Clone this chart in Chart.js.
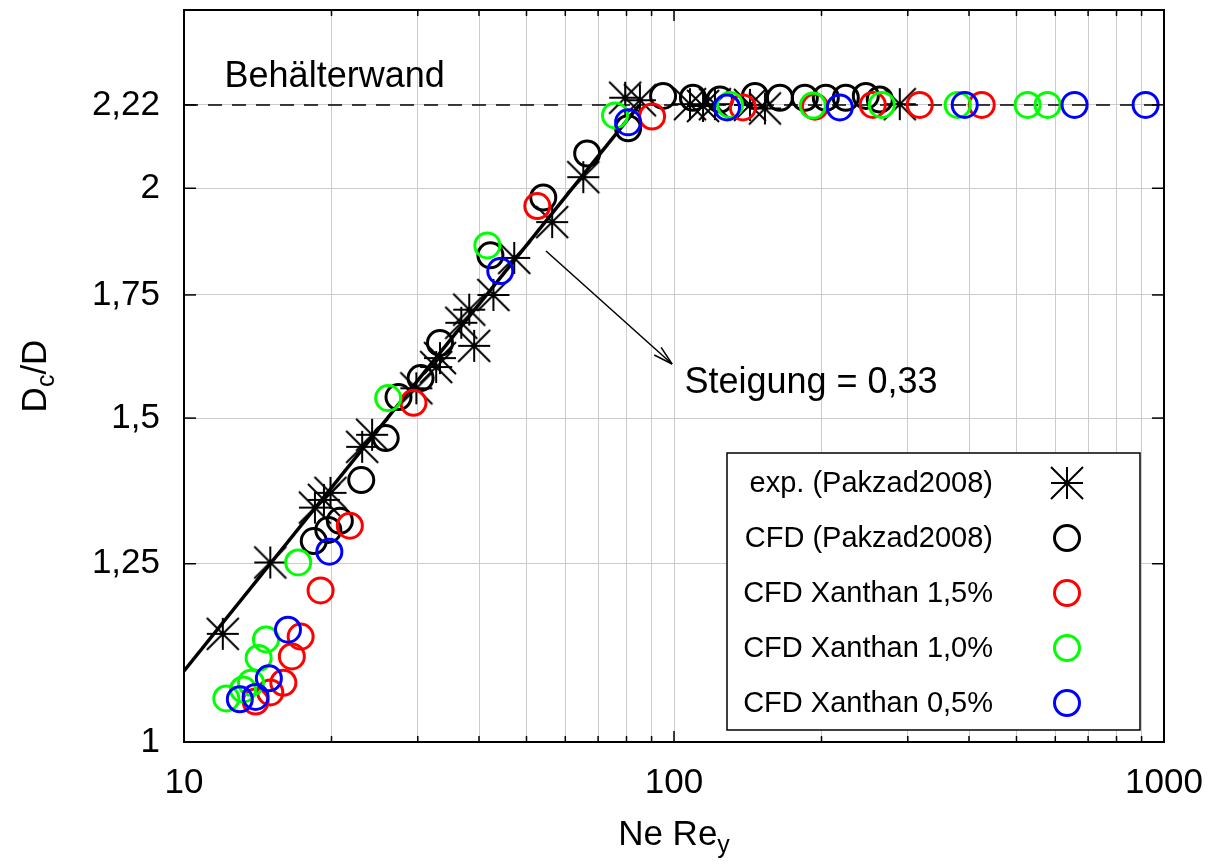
<!DOCTYPE html>
<html>
<head>
<meta charset="utf-8">
<script src="https://cdn.jsdelivr.net/npm/chart.js@4.4.1/dist/chart.umd.min.js"></script>
<style>
  html, body { margin: 0; padding: 0; background: #fff; }
  canvas { display: block; }
</style>
</head>
<body>
<canvas id="chart" width="1222" height="864"></canvas>
<script>
// values: x = Ne*Re_y, y = Dc/D
const expX = [12.0, 15.0, 18.5, 19.3, 19.9, 23.1, 24.2, 29.8, 32.7, 33.3, 36.8, 38.2, 39.1, 42.8, 47.2, 56.4, 65.3, 79.5, 85.2, 107.8, 114.6, 121.2, 142.9, 153.3, 288.9];
const expY = [1.145, 1.252, 1.341, 1.354, 1.366, 1.447, 1.469, 1.557, 1.599, 1.617, 1.690, 1.718, 1.642, 1.750, 1.833, 1.917, 2.028, 2.24, 2.233, 2.222, 2.217, 2.222, 2.22, 2.21, 2.222];

const cfdX = [18.4, 19.7, 20.8, 23.0, 25.8, 27.4, 30.4, 33.3, 42.2, 54.1, 66.5, 80.6, 95.0, 109.3, 124.1, 146.3, 164.5, 184.9, 204.1, 224.2, 246.3, 263];
const cfdY = [1.286, 1.304, 1.319, 1.388, 1.463, 1.540, 1.577, 1.648, 1.839, 1.977, 2.089, 2.156, 2.245, 2.24, 2.235, 2.245, 2.24, 2.24, 2.24, 2.24, 2.245, 2.235];

const xan15X = [14.0, 15.0, 15.95, 16.6, 17.3, 19.0, 21.8, 29.4, 52.6, 90.2, 138.2, 193.9, 254.5, 317.3, 424.6];
const xan15Y = [1.052, 1.064, 1.077, 1.113, 1.141, 1.209, 1.311, 1.529, 1.956, 2.188, 2.213, 2.215, 2.22, 2.22, 2.22];

const xan10X = [12.2, 13.2, 13.7, 14.2, 14.7, 17.1, 26.1, 41.6, 75.8, 130.1, 192.0, 265.5, 379.3, 526.8, 578.7];
const xan10Y = [1.056, 1.068, 1.077, 1.111, 1.137, 1.252, 1.538, 1.862, 2.191, 2.22, 2.218, 2.22, 2.22, 2.22, 2.22];

const xan05X = [13.0, 14.0, 14.9, 16.3, 19.8, 44.2, 80.6, 128.3, 218.0, 392.0, 656.9, 917.1];
const xan05Y = [1.055, 1.058, 1.083, 1.151, 1.269, 1.803, 2.172, 2.213, 2.213, 2.22, 2.22, 2.22];

// fitted line (slope 0.33) and vessel wall
const fitX = [10, 85];
const fitY = [1.093, 2.22];
const wallX = [10, 1000];
const wallY = [2.22, 2.22];

// axes
const xGridValues = [10, 20, 30, 40, 50, 60, 70, 80, 90, 100, 200, 300, 400, 500, 600, 700, 800, 900, 1000];
const xLabelValues = [10, 100, 1000];
const yTicks = [1, 1.25, 1.5, 1.75, 2, 2.22];
const yTickLabels = ['1', '1,25', '1,5', '1,75', '2', '2,22'];

const legendLabels = ['exp. (Pakzad2008)', 'CFD (Pakzad2008)', 'CFD Xanthan 1,5%', 'CFD Xanthan 1,0%', 'CFD Xanthan 0,5%'];

const FONT = '"Liberation Sans", Arial, Helvetica, sans-serif';

function pts(xs, ys) {
    return xs.map((x, i) => ({ x: x, y: ys[i] }));
}

// gnuplot-style "*" marker: plus plus a cross reaching the corners
function starImage(r, lw) {
    const s = Math.ceil(2 * r + lw + 2);
    const c = document.createElement('canvas');
    c.width = s; c.height = s;
    const g = c.getContext('2d');
    const m = s / 2;
    g.strokeStyle = '#000';
    g.lineWidth = lw;
    g.beginPath();
    g.moveTo(m - r, m); g.lineTo(m + r, m);
    g.moveTo(m, m - r); g.lineTo(m, m + r);
    g.moveTo(m - r, m - r); g.lineTo(m + r, m + r);
    g.moveTo(m - r, m + r); g.lineTo(m + r, m - r);
    g.stroke();
    return c;
}
const star = starImage(16, 2);

function circleSet(label, xs, ys, color, order) {
    return {
        label: label,
        data: pts(xs, ys),
        pointStyle: 'circle',
        pointRadius: 12.5,
        pointHoverRadius: 12.5,
        borderColor: color,
        backgroundColor: 'rgba(0,0,0,0)',
        borderWidth: 3,
        pointBorderWidth: 3,
        showLine: false,
        order: order
    };
}

function line(ctx, x1, y1, x2, y2) {
    ctx.beginPath();
    ctx.moveTo(x1, y1);
    ctx.lineTo(x2, y2);
    ctx.stroke();
}

// frame, inward ticks, annotations, legend and axis titles
const decor = {
    id: 'decor',
    afterDraw(chart) {
        const ctx = chart.ctx;
        const a = chart.chartArea;
        const xs = chart.scales.x, ys = chart.scales.y;
        ctx.save();

        ctx.strokeStyle = '#000';
        ctx.lineWidth = 1.5;
        xGridValues.forEach(v => {
            const px = xs.getPixelForValue(v);
            const len = xLabelValues.includes(v) ? 11 : 6;
            line(ctx, px, a.bottom, px, a.bottom - len);
            line(ctx, px, a.top, px, a.top + len);
        });
        yTicks.forEach(v => {
            const py = ys.getPixelForValue(v);
            line(ctx, a.left, py, a.left + 12, py);
            line(ctx, a.right, py, a.right - 12, py);
        });

        ctx.lineWidth = 2;
        ctx.strokeRect(a.left, a.top, a.right - a.left, a.bottom - a.top);

        // labels inside the plot
        ctx.fillStyle = '#000';
        ctx.textBaseline = 'middle';
        ctx.textAlign = 'left';
        ctx.font = '36px ' + FONT;
        ctx.fillText('Behälterwand', xs.getPixelForValue(12.1), ys.getPixelForValue(2.30));
        ctx.fillText('Steigung = 0,33', xs.getPixelForValue(105), ys.getPixelForValue(1.567));

        // arrow
        const ax1 = xs.getPixelForValue(54.8), ay1 = ys.getPixelForValue(1.849);
        const ax2 = xs.getPixelForValue(99.1), ay2 = ys.getPixelForValue(1.605);
        ctx.lineWidth = 1.5;
        line(ctx, ax1, ay1, ax2, ay2);
        const ang = Math.atan2(ay2 - ay1, ax2 - ax1);
        const hl = 20, hw = 0.26;
        line(ctx, ax2, ay2, ax2 - hl * Math.cos(ang - hw), ay2 - hl * Math.sin(ang - hw));
        line(ctx, ax2, ay2, ax2 - hl * Math.cos(ang + hw), ay2 - hl * Math.sin(ang + hw));

        // legend
        const lx = 727, ly = 453, lw = 413, lh = 277;
        ctx.fillStyle = '#fff';
        ctx.fillRect(lx, ly, lw, lh);
        ctx.strokeStyle = '#000';
        ctx.lineWidth = 1.5;
        ctx.strokeRect(lx, ly, lw, lh);
        const rows = [483, 538, 593, 648, 703];
        const colors = ['#000', '#000', '#ff0000', '#00ff00', '#0000ff'];
        ctx.font = '29px ' + FONT;
        ctx.textAlign = 'right';
        legendLabels.forEach((t, i) => {
            ctx.fillStyle = '#000';
            ctx.fillText(t, 993, rows[i] + 1);
            if (i === 0) {
                ctx.drawImage(star, 1067 - star.width / 2, rows[i] - star.height / 2);
            } else {
                ctx.strokeStyle = colors[i];
                ctx.lineWidth = 3;
                ctx.beginPath();
                ctx.arc(1067, rows[i], 12.5, 0, Math.PI * 2);
                ctx.stroke();
            }
        });

        // x title: Ne Re_y
        ctx.fillStyle = '#000';
        ctx.textAlign = 'left';
        ctx.textBaseline = 'alphabetic';
        const cx = (a.left + a.right) / 2;
        ctx.font = '35px ' + FONT;
        const w1 = ctx.measureText('Ne Re').width;
        ctx.font = '25px ' + FONT;
        const w2 = ctx.measureText('y').width;
        let x0 = cx - (w1 + w2) / 2;
        ctx.font = '35px ' + FONT;
        ctx.fillText('Ne Re', x0, 845);
        ctx.font = '25px ' + FONT;
        ctx.fillText('y', x0 + w1, 853);

        // y title: D_c/D (rotated)
        ctx.translate(46, (a.top + a.bottom) / 2);
        ctx.rotate(-Math.PI / 2);
        ctx.font = '35px ' + FONT;
        const d1 = ctx.measureText('D').width;
        const d3 = ctx.measureText('/D').width;
        ctx.font = '25px ' + FONT;
        const d2 = ctx.measureText('c').width;
        x0 = -(d1 + d2 + d3) / 2;
        ctx.font = '35px ' + FONT;
        ctx.fillText('D', x0, 0);
        ctx.font = '25px ' + FONT;
        ctx.fillText('c', x0 + d1, 8);
        ctx.font = '35px ' + FONT;
        ctx.fillText('/D', x0 + d1 + d2, 0);

        ctx.restore();
    }
};

new Chart(document.getElementById('chart').getContext('2d'), {
    type: 'scatter',
    data: {
        datasets: [
            circleSet('CFD Xanthan 0,5%', xan05X, xan05Y, '#0000ff', 0),
            circleSet('CFD Xanthan 1,0%', xan10X, xan10Y, '#00ff00', 1),
            circleSet('CFD Xanthan 1,5%', xan15X, xan15Y, '#ff0000', 2),
            circleSet('CFD (Pakzad2008)', cfdX, cfdY, '#000000', 3),
            {
                label: 'exp. (Pakzad2008)',
                data: pts(expX, expY),
                pointStyle: star,
                pointRadius: 16,
                showLine: false,
                order: 4
            },
            {
                label: 'fit',
                data: pts(fitX, fitY),
                showLine: true,
                borderColor: '#000',
                borderWidth: 3.5,
                pointRadius: 0,
                order: 5
            },
            {
                label: 'wall',
                data: pts(wallX, wallY),
                showLine: true,
                borderColor: '#000',
                borderWidth: 1.5,
                borderDash: [14, 10],
                pointRadius: 0,
                order: 6
            }
        ]
    },
    options: {
        responsive: false,
        animation: false,
        devicePixelRatio: 1,
        layout: { autoPadding: false, padding: { left: 0, top: 10, right: 58, bottom: 0 } },
        plugins: {
            legend: { display: false },
            tooltip: { enabled: false }
        },
        scales: {
            x: {
                type: 'logarithmic',
                min: 10,
                max: 1000,
                afterBuildTicks: s => { s.ticks = xGridValues.map(v => ({ value: v })); },
                afterFit: s => { s.height = 122; s.paddingLeft = 0; s.paddingRight = 0; },
                grid: { color: '#cccccc', lineWidth: 1, drawTicks: false },
                border: { display: false },
                ticks: {
                    autoSkip: false,
                    maxRotation: 0,
                    padding: 20,
                    color: '#000',
                    font: { family: FONT, size: 35 },
                    callback: v => xLabelValues.includes(v) ? String(v) : ''
                }
            },
            y: {
                type: 'logarithmic',
                min: 1,
                max: 2.5,
                afterBuildTicks: s => { s.ticks = yTicks.map(v => ({ value: v })); },
                afterFit: s => { s.width = 184; s.paddingTop = 0; s.paddingBottom = 0; },
                grid: { color: '#cccccc', lineWidth: 1, drawTicks: false },
                border: { display: false },
                ticks: {
                    autoSkip: false,
                    padding: 24,
                    color: '#000',
                    font: { family: FONT, size: 35 },
                    callback: (v, i) => yTickLabels[yTicks.indexOf(v)] ?? ''
                }
            }
        }
    },
    plugins: [decor]
});
</script>
</body>
</html>
